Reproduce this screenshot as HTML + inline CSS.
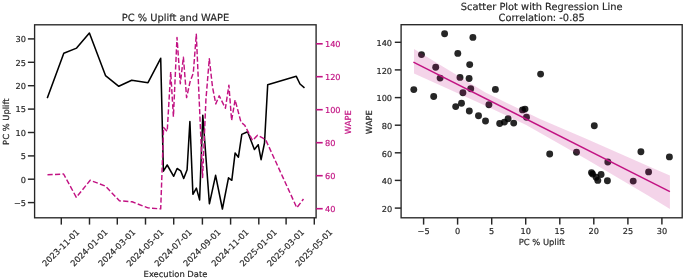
<!DOCTYPE html>
<html lang="en"><head><meta charset="utf-8"><title>PC % Uplift and WAPE</title>
<style>html,body{margin:0;padding:0;background:#fff}svg{display:block}text{stroke-width:0.18px;paint-order:stroke fill}text[fill="#262626"]{stroke:#262626}text[fill="#C21383"]{stroke:#C21383}</style></head>
<body>
<svg width="685" height="279" viewBox="0 0 685 279" font-family='"DejaVu Sans", "Liberation Sans", sans-serif' text-rendering="geometricPrecision">
<rect width="685" height="279" fill="#fff"/>
<polyline points="47.5,97.4 63.8,53.2 76.6,48.1 89.4,33.0 105.5,75.6 118.8,86.3 131.7,80.2 148.0,82.7 160.7,58.3 163.4,171.2 167.2,165.0 173.7,176.3 177.1,168.5 180.7,170.9 183.7,178.5 187.1,169.7 189.9,121.5 192.9,194.3 196.4,188.1 199.6,199.9 202.8,115.3 209.4,203.8 215.6,175.3 222.4,209.0 228.5,177.8 231.8,180.3 235.1,153.1 238.4,157.2 241.8,134.4 247.6,131.8 254.4,149.5 258.2,144.7 261.1,159.7 264.5,143.0 267.7,84.8 296.3,76.3 300.0,84.0 303.9,87.3" fill="none" stroke="#000" stroke-width="1.55" stroke-linejoin="round" stroke-linecap="square"/>
<polyline points="47.5,174.8 63.6,174.0 76.3,197.3 90.2,180.3 105.5,186.1 119.4,200.8 132.1,201.8 148.0,207.9 160.7,208.9 163.6,127.5 167.2,131.5 170.7,71.9 173.4,116.8 177.0,37.5 180.3,83.7 183.4,57.2 186.6,97.6 190.0,82.0 193.3,73.0 196.3,34.2 202.6,177.5 205.9,100.0 209.3,58.7 212.5,87.0 215.8,103.9 219.2,95.8 225.4,108.3 228.9,85.2 231.6,120.4 235.1,99.9 241.0,122.2 244.7,125.2 252.5,140.4 257.6,135.3 265.6,139.6 296.8,207.7 303.5,199.0" fill="none" stroke="#C21383" stroke-width="1.45" stroke-dasharray="5.2,2.3" stroke-linejoin="round"/>
<rect x="34.6" y="24.8" width="281.5" height="193.0" fill="none" stroke="#262626" stroke-width="1.35"/>
<line x1="27.9" x2="34.6" y1="38.9" y2="38.9" stroke="#262626" stroke-width="1.45"/>
<text x="26.0" y="42.2" font-size="8.2" text-anchor="end" fill="#262626">30</text>
<line x1="27.9" x2="34.6" y1="62.3" y2="62.3" stroke="#262626" stroke-width="1.45"/>
<text x="26.0" y="65.6" font-size="8.2" text-anchor="end" fill="#262626">25</text>
<line x1="27.9" x2="34.6" y1="85.7" y2="85.7" stroke="#262626" stroke-width="1.45"/>
<text x="26.0" y="89.0" font-size="8.2" text-anchor="end" fill="#262626">20</text>
<line x1="27.9" x2="34.6" y1="109.1" y2="109.1" stroke="#262626" stroke-width="1.45"/>
<text x="26.0" y="112.4" font-size="8.2" text-anchor="end" fill="#262626">15</text>
<line x1="27.9" x2="34.6" y1="132.5" y2="132.5" stroke="#262626" stroke-width="1.45"/>
<text x="26.0" y="135.8" font-size="8.2" text-anchor="end" fill="#262626">10</text>
<line x1="27.9" x2="34.6" y1="155.9" y2="155.9" stroke="#262626" stroke-width="1.45"/>
<text x="26.0" y="159.2" font-size="8.2" text-anchor="end" fill="#262626">5</text>
<line x1="27.9" x2="34.6" y1="179.2" y2="179.2" stroke="#262626" stroke-width="1.45"/>
<text x="26.0" y="182.6" font-size="8.2" text-anchor="end" fill="#262626">0</text>
<line x1="27.9" x2="34.6" y1="202.6" y2="202.6" stroke="#262626" stroke-width="1.45"/>
<text x="26.0" y="205.9" font-size="8.2" text-anchor="end" fill="#262626">−5</text>
<line x1="316.1" x2="322.7" y1="43.8" y2="43.8" stroke="#C21383" stroke-width="1.6"/>
<text x="324.95" y="47.2" font-size="8.2" fill="#C21383">140</text>
<line x1="316.1" x2="322.7" y1="76.7" y2="76.7" stroke="#C21383" stroke-width="1.6"/>
<text x="324.95" y="80.2" font-size="8.2" fill="#C21383">120</text>
<line x1="316.1" x2="322.7" y1="109.7" y2="109.7" stroke="#C21383" stroke-width="1.6"/>
<text x="324.95" y="113.2" font-size="8.2" fill="#C21383">100</text>
<line x1="316.1" x2="322.7" y1="142.7" y2="142.7" stroke="#C21383" stroke-width="1.6"/>
<text x="324.95" y="146.2" font-size="8.2" fill="#C21383">80</text>
<line x1="316.1" x2="322.7" y1="175.7" y2="175.7" stroke="#C21383" stroke-width="1.6"/>
<text x="324.95" y="179.2" font-size="8.2" fill="#C21383">60</text>
<line x1="316.1" x2="322.7" y1="208.7" y2="208.7" stroke="#C21383" stroke-width="1.6"/>
<text x="324.95" y="212.2" font-size="8.2" fill="#C21383">40</text>
<line x1="61.3" x2="61.3" y1="217.8" y2="224.6" stroke="#262626" stroke-width="1.45"/>
<text transform="translate(60.85,247.85) rotate(-45)" font-size="8.4" text-anchor="middle" y="2.9" fill="#262626">2023-11-01</text>
<line x1="89.5" x2="89.5" y1="217.8" y2="224.6" stroke="#262626" stroke-width="1.45"/>
<text transform="translate(89.06,247.85) rotate(-45)" font-size="8.4" text-anchor="middle" y="2.9" fill="#262626">2024-01-01</text>
<line x1="117.3" x2="117.3" y1="217.8" y2="224.6" stroke="#262626" stroke-width="1.45"/>
<text transform="translate(116.81,247.85) rotate(-45)" font-size="8.4" text-anchor="middle" y="2.9" fill="#262626">2024-03-01</text>
<line x1="145.5" x2="145.5" y1="217.8" y2="224.6" stroke="#262626" stroke-width="1.45"/>
<text transform="translate(145.03,247.85) rotate(-45)" font-size="8.4" text-anchor="middle" y="2.9" fill="#262626">2024-05-01</text>
<line x1="173.7" x2="173.7" y1="217.8" y2="224.6" stroke="#262626" stroke-width="1.45"/>
<text transform="translate(173.24,247.85) rotate(-45)" font-size="8.4" text-anchor="middle" y="2.9" fill="#262626">2024-07-01</text>
<line x1="202.4" x2="202.4" y1="217.8" y2="224.6" stroke="#262626" stroke-width="1.45"/>
<text transform="translate(201.91,247.85) rotate(-45)" font-size="8.4" text-anchor="middle" y="2.9" fill="#262626">2024-09-01</text>
<line x1="230.6" x2="230.6" y1="217.8" y2="224.6" stroke="#262626" stroke-width="1.45"/>
<text transform="translate(230.12,247.85) rotate(-45)" font-size="8.4" text-anchor="middle" y="2.9" fill="#262626">2024-11-01</text>
<line x1="258.8" x2="258.8" y1="217.8" y2="224.6" stroke="#262626" stroke-width="1.45"/>
<text transform="translate(258.34,247.85) rotate(-45)" font-size="8.4" text-anchor="middle" y="2.9" fill="#262626">2025-01-01</text>
<line x1="286.1" x2="286.1" y1="217.8" y2="224.6" stroke="#262626" stroke-width="1.45"/>
<text transform="translate(285.62,247.85) rotate(-45)" font-size="8.4" text-anchor="middle" y="2.9" fill="#262626">2025-03-01</text>
<line x1="314.3" x2="314.3" y1="217.8" y2="224.6" stroke="#262626" stroke-width="1.45"/>
<text transform="translate(313.84,247.85) rotate(-45)" font-size="8.4" text-anchor="middle" y="2.9" fill="#262626">2025-05-01</text>
<text x="175.5" y="20.7" font-size="9.85" text-anchor="middle" fill="#262626">PC % Uplift and WAPE</text>
<text x="175.5" y="276.6" font-size="8.38" text-anchor="middle" fill="#262626">Execution Date</text>
<text transform="translate(9.2,121.7) rotate(-90)" font-size="8.38" text-anchor="middle" fill="#262626">PC % Uplift</text>
<text transform="translate(350.8,122.2) rotate(-90)" font-size="8.38" text-anchor="middle" fill="#C21383">WAPE</text>
<circle cx="444.6" cy="33.7" r="3.45" fill="#000" fill-opacity="0.85"/>
<circle cx="472.9" cy="37.4" r="3.45" fill="#000" fill-opacity="0.85"/>
<circle cx="421.5" cy="54.6" r="3.45" fill="#000" fill-opacity="0.85"/>
<circle cx="457.8" cy="53.4" r="3.45" fill="#000" fill-opacity="0.85"/>
<circle cx="435.7" cy="67.2" r="3.45" fill="#000" fill-opacity="0.85"/>
<circle cx="469.7" cy="64.6" r="3.45" fill="#000" fill-opacity="0.85"/>
<circle cx="440.1" cy="78.1" r="3.45" fill="#000" fill-opacity="0.85"/>
<circle cx="460.0" cy="77.4" r="3.45" fill="#000" fill-opacity="0.85"/>
<circle cx="469.1" cy="78.5" r="3.45" fill="#000" fill-opacity="0.85"/>
<circle cx="413.8" cy="89.6" r="3.45" fill="#000" fill-opacity="0.85"/>
<circle cx="470.7" cy="88.8" r="3.45" fill="#000" fill-opacity="0.85"/>
<circle cx="462.9" cy="92.8" r="3.45" fill="#000" fill-opacity="0.85"/>
<circle cx="433.7" cy="96.5" r="3.45" fill="#000" fill-opacity="0.85"/>
<circle cx="495.4" cy="89.4" r="3.45" fill="#000" fill-opacity="0.85"/>
<circle cx="461.5" cy="103.2" r="3.45" fill="#000" fill-opacity="0.85"/>
<circle cx="455.7" cy="106.6" r="3.45" fill="#000" fill-opacity="0.85"/>
<circle cx="469.3" cy="111.0" r="3.45" fill="#000" fill-opacity="0.85"/>
<circle cx="478.5" cy="115.7" r="3.45" fill="#000" fill-opacity="0.85"/>
<circle cx="485.5" cy="121.0" r="3.45" fill="#000" fill-opacity="0.85"/>
<circle cx="488.9" cy="104.7" r="3.45" fill="#000" fill-opacity="0.85"/>
<circle cx="540.6" cy="74.1" r="3.45" fill="#000" fill-opacity="0.85"/>
<circle cx="499.7" cy="123.5" r="3.45" fill="#000" fill-opacity="0.85"/>
<circle cx="504.4" cy="122.1" r="3.45" fill="#000" fill-opacity="0.85"/>
<circle cx="508.1" cy="118.7" r="3.45" fill="#000" fill-opacity="0.85"/>
<circle cx="513.7" cy="123.1" r="3.45" fill="#000" fill-opacity="0.85"/>
<circle cx="522.5" cy="109.9" r="3.45" fill="#000" fill-opacity="0.85"/>
<circle cx="525.0" cy="109.1" r="3.45" fill="#000" fill-opacity="0.85"/>
<circle cx="526.5" cy="117.2" r="3.45" fill="#000" fill-opacity="0.85"/>
<circle cx="549.7" cy="154.0" r="3.45" fill="#000" fill-opacity="0.85"/>
<circle cx="576.5" cy="152.2" r="3.45" fill="#000" fill-opacity="0.85"/>
<circle cx="594.3" cy="125.8" r="3.45" fill="#000" fill-opacity="0.85"/>
<circle cx="640.9" cy="151.7" r="3.45" fill="#000" fill-opacity="0.85"/>
<circle cx="669.4" cy="156.9" r="3.45" fill="#000" fill-opacity="0.85"/>
<circle cx="607.8" cy="162.0" r="3.45" fill="#000" fill-opacity="0.85"/>
<circle cx="591.5" cy="172.6" r="3.45" fill="#000" fill-opacity="0.85"/>
<circle cx="592.6" cy="174.1" r="3.45" fill="#000" fill-opacity="0.85"/>
<circle cx="601.1" cy="174.5" r="3.45" fill="#000" fill-opacity="0.85"/>
<circle cx="596.1" cy="177.3" r="3.45" fill="#000" fill-opacity="0.85"/>
<circle cx="597.8" cy="180.4" r="3.45" fill="#000" fill-opacity="0.85"/>
<circle cx="607.4" cy="180.7" r="3.45" fill="#000" fill-opacity="0.85"/>
<circle cx="633.2" cy="181.1" r="3.45" fill="#000" fill-opacity="0.85"/>
<circle cx="648.6" cy="171.9" r="3.45" fill="#000" fill-opacity="0.85"/>
<polygon points="414.0,48.9 485.0,92.2 540.0,119.0 585.0,138.2 652.5,168.0 669.9,175.4 669.9,208.9 647.1,195.0 587.7,160.0 526.2,125.0 485.0,105.4 414.0,73.6" fill="#C21383" fill-opacity="0.18"/>
<line x1="413.4" y1="62.1" x2="669.9" y2="191.6" stroke="#C21383" stroke-width="1.45" stroke-linecap="butt"/>
<rect x="401.1" y="24.7" width="281.1" height="193.1" fill="none" stroke="#262626" stroke-width="1.35"/>
<line x1="394.8" x2="401.1" y1="42.3" y2="42.3" stroke="#262626" stroke-width="1.45"/>
<text x="392.1" y="45.9" font-size="8.2" text-anchor="end" fill="#262626">140</text>
<line x1="394.8" x2="401.1" y1="69.9" y2="69.9" stroke="#262626" stroke-width="1.45"/>
<text x="392.1" y="73.6" font-size="8.2" text-anchor="end" fill="#262626">120</text>
<line x1="394.8" x2="401.1" y1="97.6" y2="97.6" stroke="#262626" stroke-width="1.45"/>
<text x="392.1" y="101.2" font-size="8.2" text-anchor="end" fill="#262626">100</text>
<line x1="394.8" x2="401.1" y1="125.2" y2="125.2" stroke="#262626" stroke-width="1.45"/>
<text x="392.1" y="128.8" font-size="8.2" text-anchor="end" fill="#262626">80</text>
<line x1="394.8" x2="401.1" y1="152.8" y2="152.8" stroke="#262626" stroke-width="1.45"/>
<text x="392.1" y="156.5" font-size="8.2" text-anchor="end" fill="#262626">60</text>
<line x1="394.8" x2="401.1" y1="180.4" y2="180.4" stroke="#262626" stroke-width="1.45"/>
<text x="392.1" y="184.1" font-size="8.2" text-anchor="end" fill="#262626">40</text>
<line x1="394.8" x2="401.1" y1="208.1" y2="208.1" stroke="#262626" stroke-width="1.45"/>
<text x="392.1" y="211.7" font-size="8.2" text-anchor="end" fill="#262626">20</text>
<line x1="423.6" x2="423.6" y1="217.8" y2="224.6" stroke="#262626" stroke-width="1.45"/>
<text x="423.6" y="233.75" font-size="8.2" text-anchor="middle" fill="#262626">−5</text>
<line x1="457.6" x2="457.6" y1="217.8" y2="224.6" stroke="#262626" stroke-width="1.45"/>
<text x="457.6" y="233.75" font-size="8.2" text-anchor="middle" fill="#262626">0</text>
<line x1="491.7" x2="491.7" y1="217.8" y2="224.6" stroke="#262626" stroke-width="1.45"/>
<text x="491.7" y="233.75" font-size="8.2" text-anchor="middle" fill="#262626">5</text>
<line x1="525.7" x2="525.7" y1="217.8" y2="224.6" stroke="#262626" stroke-width="1.45"/>
<text x="525.7" y="233.75" font-size="8.2" text-anchor="middle" fill="#262626">10</text>
<line x1="559.8" x2="559.8" y1="217.8" y2="224.6" stroke="#262626" stroke-width="1.45"/>
<text x="559.8" y="233.75" font-size="8.2" text-anchor="middle" fill="#262626">15</text>
<line x1="593.8" x2="593.8" y1="217.8" y2="224.6" stroke="#262626" stroke-width="1.45"/>
<text x="593.8" y="233.75" font-size="8.2" text-anchor="middle" fill="#262626">20</text>
<line x1="627.9" x2="627.9" y1="217.8" y2="224.6" stroke="#262626" stroke-width="1.45"/>
<text x="627.9" y="233.75" font-size="8.2" text-anchor="middle" fill="#262626">25</text>
<line x1="661.9" x2="661.9" y1="217.8" y2="224.6" stroke="#262626" stroke-width="1.45"/>
<text x="661.9" y="233.75" font-size="8.2" text-anchor="middle" fill="#262626">30</text>
<text x="541.7" y="9.8" font-size="9.85" text-anchor="middle" fill="#262626">Scatter Plot with Regression Line</text>
<text x="541.7" y="20.7" font-size="9.85" text-anchor="middle" fill="#262626">Correlation: -0.85</text>
<text x="541.9" y="244.5" font-size="8.38" text-anchor="middle" fill="#262626">PC % Uplift</text>
<text transform="translate(371.6,122.2) rotate(-90)" font-size="8.38" text-anchor="middle" fill="#262626">WAPE</text>
</svg>
</body></html>
